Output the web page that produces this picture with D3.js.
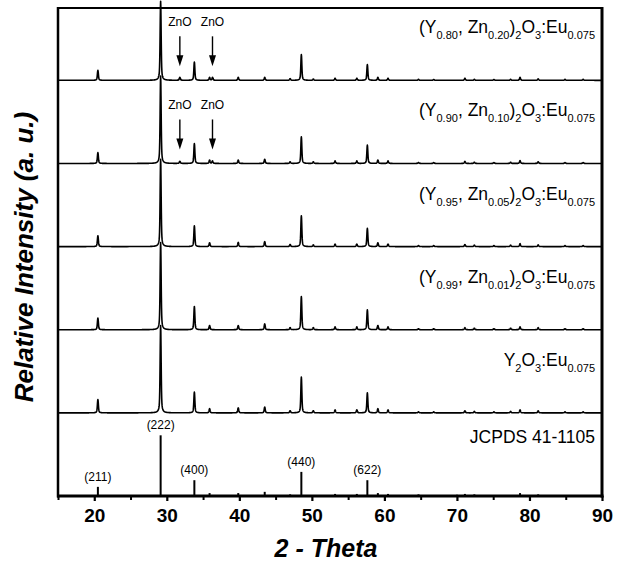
<!DOCTYPE html>
<html>
<head>
<meta charset="utf-8">
<script src="https://cdn.jsdelivr.net/npm/d3@7"></script>
<style>
  body { margin: 0; background: #fff; }
  text { font-family: "Liberation Sans", Arial, sans-serif; fill: #000; }
</style>
</head>
<body>
<div id="chart"></div>
<script>
// 样品名称 (从下到上), _{...} 为下标
const sampleNames = [
  'Y_{2}O_{3}:Eu_{0.075}',
  '(Y_{0.99}, Zn_{0.01})_{2}O_{3}:Eu_{0.075}',
  '(Y_{0.95}, Zn_{0.05})_{2}O_{3}:Eu_{0.075}',
  '(Y_{0.90}, Zn_{0.10})_{2}O_{3}:Eu_{0.075}',
  '(Y_{0.80}, Zn_{0.20})_{2}O_{3}:Eu_{0.075}'
]

// Y2O3 衍射峰位置 (2θ)
const peakPositions = [20.5, 29.15, 33.8, 35.9, 39.85, 43.5, 47.0, 48.55, 50.2, 53.2, 56.2, 57.65,
  59.1, 60.5, 64.7, 66.8, 71.1, 72.4, 75.1, 77.4, 78.7, 81.2, 84.9, 87.4]

// 各样品峰强度 (与 peakPositions 对应, 主峰约 100)
const intensityY2O3 = [16, 105, 25, 5, 6, 7, 2.5, 43, 2.5, 3.5, 3.5, 24, 5, 3.5, 1.2, 1.2, 2.5, 1.8, 1.2, 1.8, 3.5, 2.5, 1.2, 1.2]
const intensityZn01 = [14, 105, 28, 5, 5, 7, 2.5, 40, 2.5, 3.5, 3.5, 24, 5, 3.5, 1.2, 1.2, 2.5, 1.8, 1.2, 1.8, 3.5, 2.5, 1.2, 1.2]
const intensityZn05 = [13, 105, 25, 4.5, 5, 6, 2.5, 37, 2, 3, 3, 22, 4.5, 3, 1.2, 1.2, 2.5, 1.8, 1.2, 1.8, 3.5, 2, 1.2, 1.2]
const intensityZn10 = [13, 105, 24, 4, 4, 5, 2, 32, 2, 3, 3, 22, 4, 3, 1.2, 1, 2.5, 1.5, 1, 1.5, 3.5, 2, 1, 1]
const intensityZn20 = [12, 95, 22, 3.5, 3.5, 3.5, 2, 31, 1.5, 2.5, 2.5, 19, 3.5, 2.5, 1.2, 1, 2.5, 1.2, 1, 1.2, 3.5, 1.8, 1.2, 1.2]
const sampleIntensities = [intensityY2O3, intensityZn01, intensityZn05, intensityZn10, intensityZn20]

// ZnO 杂峰
const znoPositions = [31.8, 36.3]
const znoIntensities = [[0, 0], [0, 0], [0, 0], [2.5, 3], [3.5, 3.5]]
const znoArrowSamples = [3, 4]

// JCPDS 41-1105 标准卡片
const jcpdsPositions = [20.5, 29.15, 33.8, 35.9, 39.85, 43.5, 47.0, 48.55, 53.2, 56.2, 57.65, 59.1, 60.5, 64.7, 70.0, 71.1, 72.4, 78.7, 81.2]
const jcpdsIntensities = [11, 73, 19, 3.5, 3.5, 5, 2, 29, 2.5, 2.5, 19, 3.5, 2.5, 2, 1.5, 2.5, 2, 3.5, 2]
const jcpdsLabels = [[20.5, '(211)'], [29.15, '(222)'], [33.8, '(400)'], [48.55, '(440)'], [57.65, '(622)']]

const xTicks = [20, 30, 40, 50, 60, 70, 80, 90]
const xMinorTicks = [15, 25, 35, 45, 55, 65, 75, 85]

const width = 625
const height = 562
const plot = { left: 58, right: 602, top: 8, bottom: 496 }
const step = 100 // 每条曲线的偏移

const x = d3.scaleLinear().domain([15, 90]).range([plot.left, plot.right])
const y = d3.scaleLinear().domain([0, 587]).range([plot.bottom, plot.top])

const svg = d3.select('#chart')
  .append('svg')
  .attr('width', width)
  .attr('height', height)

// 峰形: 高斯 + 洛伦兹
function profile(peaks) {
  const pts = []
  const n = Math.round((90 - 15) / 0.025)
  for (let i = 0; i <= n; i++) {
    const t = 15 + i * 0.025
    let v = 0
    peaks.forEach(([p, h]) => {
      const dx = t - p
      v += h * (0.6 * Math.exp(-dx * dx / (2 * 0.065 * 0.065)) + 0.4 / (1 + (dx / 0.1) * (dx / 0.1)))
    })
    pts.push([t, v])
  }
  return pts
}

const line = d3.line()

// 样品曲线
sampleIntensities.forEach((ints, k) => {
  const offset = (k + 1) * step
  const peaks = peakPositions.map((p, i) => [p, ints[i]])
  znoPositions.forEach((p, i) => { if (znoIntensities[k][i] > 0) peaks.push([p, znoIntensities[k][i]]) })
  const pts = profile(peaks).map(([t, v]) => [x(t), y(offset + v)])
  svg.append('path')
    .attr('d', line(pts))
    .attr('fill', 'none')
    .attr('stroke', '#000')
    .attr('stroke-width', 1.6)
    .attr('stroke-linejoin', 'round')
})

// 样品名称
function addFormula(sel, str, size, subSize) {
  const parts = str.split(/(_\{[^}]*\})/).filter(s => s.length)
  let isSub = false
  parts.forEach(s => {
    if (s.startsWith('_{')) {
      sel.append('tspan').attr('font-size', subSize).attr('dy', isSub ? 0 : 6).text(s.slice(2, -1))
      isSub = true
    } else {
      sel.append('tspan').attr('font-size', size).attr('dy', isSub ? -6 : 0).text(s)
      isSub = false
    }
  })
}

sampleNames.forEach((name, k) => {
  const t = svg.append('text')
    .attr('x', 595)
    .attr('y', y((k + 1) * step) - 47)
    .attr('text-anchor', 'end')
  addFormula(t, name, 17.5, 11)
})

// ZnO 箭头
znoArrowSamples.forEach(k => {
  const base = y((k + 1) * step)
  znoPositions.forEach(p => {
    const cx = x(p)
    svg.append('text')
      .attr('x', cx)
      .attr('y', base - 54)
      .attr('text-anchor', 'middle')
      .attr('font-size', 12)
      .text('ZnO')
    svg.append('line')
      .attr('x1', cx).attr('x2', cx)
      .attr('y1', base - 44).attr('y2', base - 22)
      .attr('stroke', '#000').attr('stroke-width', 1.4)
    svg.append('path')
      .attr('d', `M${cx - 3.5},${base - 25}L${cx + 3.5},${base - 25}L${cx},${base - 14}Z`)
      .attr('fill', '#000')
  })
})

// JCPDS 竖线
svg.append('g')
  .selectAll('line')
  .data(jcpdsPositions)
  .enter().append('line')
  .attr('x1', d => x(d)).attr('x2', d => x(d))
  .attr('y1', y(0))
  .attr('y2', (d, i) => y(jcpdsIntensities[i]))
  .attr('stroke', '#000')
  .attr('stroke-width', 2)

svg.append('g')
  .selectAll('text')
  .data(jcpdsLabels)
  .enter().append('text')
  .attr('x', d => x(d[0]))
  .attr('y', d => y(jcpdsIntensities[jcpdsPositions.indexOf(d[0])]) - 6)
  .attr('text-anchor', 'middle')
  .attr('font-size', 12)
  .text(d => d[1])

svg.append('text')
  .attr('x', 595)
  .attr('y', 443)
  .attr('text-anchor', 'end')
  .attr('font-size', 17.5)
  .text('JCPDS 41-1105')

// 坐标轴
const xAxis = svg.append('g')
  .attr('transform', `translate(0, ${plot.bottom})`)
  .call(d3.axisBottom(x).tickValues(xTicks).tickSize(5).tickPadding(8))
xAxis.select('.domain').remove()
xAxis.selectAll('.tick line').attr('stroke-width', 2.2)
xAxis.selectAll('.tick text')
  .attr('font-size', 19)
  .attr('font-weight', 'bold')
  .attr('font-family', '"Liberation Sans", Arial, sans-serif')

const xMinor = svg.append('g')
  .attr('transform', `translate(0, ${plot.bottom})`)
  .call(d3.axisBottom(x).tickValues(xMinorTicks).tickSize(4).tickFormat(''))
xMinor.select('.domain').remove()
xMinor.selectAll('.tick line').attr('stroke-width', 2)

// 边框
svg.append('line').attr('x1', plot.left).attr('x2', plot.right).attr('y1', plot.top).attr('y2', plot.top)
  .attr('stroke', '#000').attr('stroke-width', 2)
svg.append('line').attr('x1', plot.left).attr('x2', plot.left).attr('y1', plot.top - 1).attr('y2', plot.bottom + 1.5)
  .attr('stroke', '#000').attr('stroke-width', 2.5)
svg.append('line').attr('x1', plot.right).attr('x2', plot.right).attr('y1', plot.top - 1).attr('y2', plot.bottom + 1.5)
  .attr('stroke', '#000').attr('stroke-width', 3)
svg.append('line').attr('x1', plot.left - 1).attr('x2', plot.right + 1.5).attr('y1', plot.bottom).attr('y2', plot.bottom)
  .attr('stroke', '#000').attr('stroke-width', 3)

// 轴标题
svg.append('text')
  .attr('x', (plot.left + plot.right) / 2 - 4)
  .attr('y', 557)
  .attr('text-anchor', 'middle')
  .attr('font-size', 25)
  .attr('font-weight', 'bold')
  .attr('font-style', 'italic')
  .text('2 - Theta')

svg.append('text')
  .attr('transform', `translate(33, 257) rotate(-90)`)
  .attr('text-anchor', 'middle')
  .attr('font-size', 26)
  .attr('font-weight', 'bold')
  .attr('font-style', 'italic')
  .text('Relative Intensity (a. u.)')
</script>
</body>
</html>
